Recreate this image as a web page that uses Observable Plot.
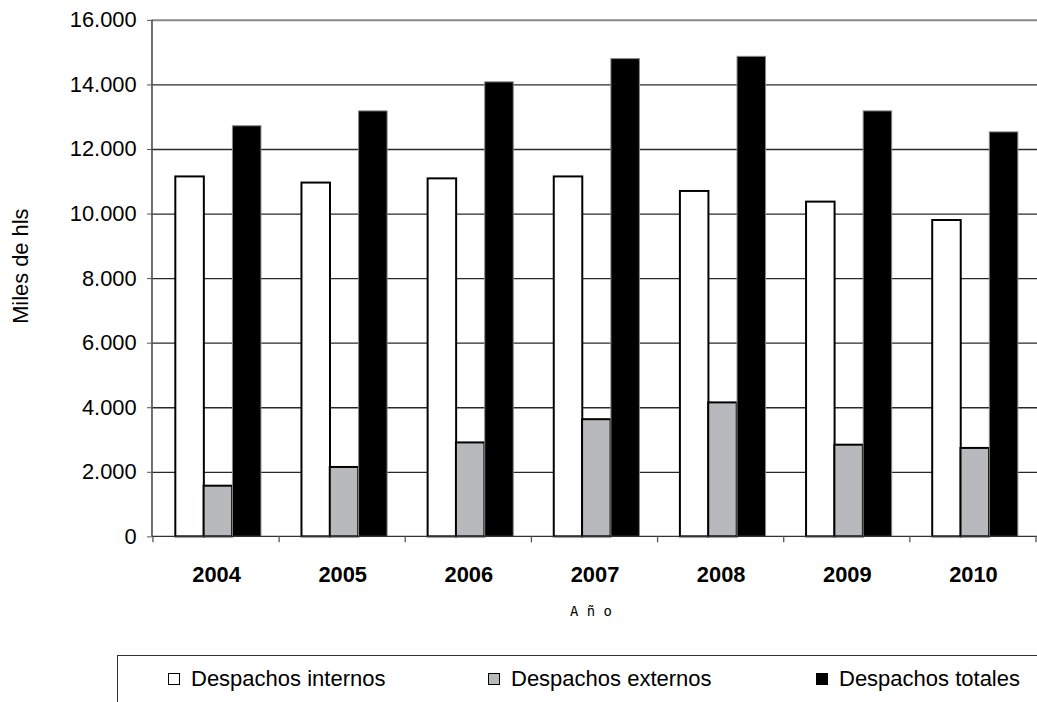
<!DOCTYPE html>
<html>
<head>
<meta charset="utf-8">
<script src="https://cdn.jsdelivr.net/npm/d3@7"></script>
<script src="https://cdn.jsdelivr.net/npm/@observablehq/plot@0.6"></script>
<style>
  html, body { margin: 0; padding: 0; background: #fff; overflow: hidden; }
  body { width: 1037px; height: 702px; position: relative; font-family: "Liberation Sans", Arial, sans-serif; }
  #chart { position: absolute; left: 0; top: 0; }
  #legend { position: absolute; left: 117px; top: 655px; width: 940px; height: 60px;
            border-top: 1.3px solid #333; border-left: 1.3px solid #333; }
  .item { position: absolute; top: 12px; font-size: 22px; color: #000; white-space: nowrap; line-height: 26px; }
  .sw { position: absolute; top: 5px; width: 10px; height: 10px; border: 1.3px solid #000; }
  .item span.t { position: absolute; left: 23px; top: -2px; }
</style>
</head>
<body>
<div id="chart"></div>
<div id="legend"></div>
<script>
const years = ["2004", "2005", "2006", "2007", "2008", "2009", "2010"];
const series = ["Despachos internos", "Despachos externos", "Despachos totales"];
const internos = [11150, 10960, 11090, 11150, 10700, 10370, 9800];
const externos = [1570, 2150, 2910, 3630, 4150, 2840, 2740];
const totales = [12720, 13180, 14080, 14800, 14870, 13180, 12530];
const yTicks = [0, 2000, 4000, 6000, 8000, 10000, 12000, 14000, 16000];
const yLabel = "Miles de hls";
const xLabel = "A ñ o";
const colors = ["#ffffff", "#b8b9bd", "#000000"];

const values = [internos, externos, totales];
const data = [];
series.forEach((s, i) => years.forEach((y, j) => data.push({year: y, serie: s, value: values[i][j]})));

const fmt = d => d3.format(",")(d).replace(/,/g, ".");

// layout constants (pixels)
const W = 1044, H = 640, ML = 153, MR = 0, MT = 20, MB = 100;
const bw = (W - ML - MR) / years.length;
const barStart = [22.5, 51, 80], barW = 29;

function frameBits(index, scales, vals, dims) {
  const g = d3.create("svg:g");
  const x = scales.x, y = scales.y;
  const step = x(years[1]) - x(years[0]);
  const y0 = y(0), yTop = y(16000);
  g.append("line").attr("x1", dims.marginLeft).attr("x2", dims.marginLeft)
    .attr("y1", yTop).attr("y2", y0).attr("stroke", "#555").attr("stroke-width", 1.7);
  g.append("line").attr("x1", dims.marginLeft).attr("x2", dims.width)
    .attr("y1", y0).attr("y2", y0).attr("stroke", "#333").attr("stroke-width", 1.5);
  const bounds = years.map(d => x(d)).concat([x(years[years.length - 1]) + step]);
  bounds.forEach(b => g.append("line").attr("x1", b).attr("x2", b)
    .attr("y1", y0).attr("y2", y0 + 6).attr("stroke", "#555").attr("stroke-width", 1.3));
  g.append("text").attr("transform", `translate(20,${(yTop + y0) / 2 - 12}) rotate(-90)`)
    .attr("text-anchor", "middle").attr("dy", "0.35em")
    .attr("font-size", 22).attr("fill", "#000").text(yLabel);
  g.append("text").attr("x", 595).attr("y", y0 + 75)
    .attr("text-anchor", "middle").attr("dy", "0.35em")
    .attr("font-family", "DejaVu Sans Mono, monospace").attr("font-size", 14)
    .attr("fill", "#000").text(xLabel);
  return g.node();
}

const barMark = (i, stroke, sw) => Plot.barY(data.filter(d => d.serie === series[i]), {
  x: "year", y: "value", fill: colors[i], stroke, strokeWidth: sw,
  insetLeft: barStart[i], insetRight: bw - barStart[i] - barW
});

const plot = Plot.plot({
  width: W, height: H,
  marginLeft: ML, marginRight: MR, marginTop: MT, marginBottom: MB,
  style: {fontFamily: "Liberation Sans, Arial, sans-serif", background: "#fff", color: "#000", overflow: "visible"},
  x: {domain: years, padding: 0, axis: null},
  y: {domain: [0, 16000], axis: null},
  marks: [
    Plot.ruleY(yTicks.filter(d => d > 0 && d < 16000), {y: d => d, stroke: "#2a2a2a", strokeWidth: 1.3}),
    Plot.ruleY([16000], {stroke: "#888", strokeWidth: 2}),
    barMark(0, "#000", 2),
    barMark(1, "#000", 2),
    barMark(2, "#888", 1),
    Plot.axisY({ticks: yTicks, tickFormat: fmt, tickSize: 5, tickPadding: 11, fontSize: 22, label: null, stroke: "#555"}),
    Plot.axisX({tickSize: 0, tickPadding: 30, fontSize: 22, fontWeight: "bold", label: null}),
    frameBits
  ]
});
document.getElementById("chart").appendChild(plot);

const legendX = [50, 370, 698];
const legend = document.getElementById("legend");
series.forEach((s, i) => {
  const item = document.createElement("div");
  item.className = "item";
  item.style.left = legendX[i] + "px";
  const sw = document.createElement("div");
  sw.className = "sw";
  sw.style.background = colors[i];
  const t = document.createElement("span");
  t.className = "t";
  t.textContent = s;
  item.appendChild(sw);
  item.appendChild(t);
  legend.appendChild(item);
});
</script>
</body>
</html>
